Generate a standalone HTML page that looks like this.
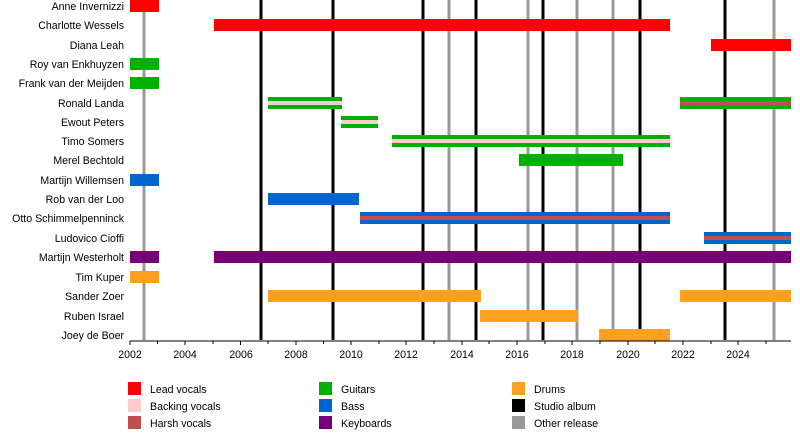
<!DOCTYPE html>
<html><head><meta charset="utf-8"><style>body{margin:0;background:#fff}</style></head><body>
<svg width="800" height="430" xmlns="http://www.w3.org/2000/svg" font-family="Liberation Sans, sans-serif" font-size="10.6">
<rect width="800" height="430" fill="#fff"/>
<g stroke="#000" stroke-width="3">
<line x1="261" y1="0" x2="261" y2="340"/><line x1="333" y1="0" x2="333" y2="340"/><line x1="423" y1="0" x2="423" y2="340"/><line x1="476" y1="0" x2="476" y2="340"/><line x1="543" y1="0" x2="543" y2="340"/><line x1="640" y1="0" x2="640" y2="340"/><line x1="725" y1="0" x2="725" y2="340"/>
</g>
<g stroke="#999" stroke-width="3">
<line x1="144" y1="0" x2="144" y2="340"/><line x1="449" y1="0" x2="449" y2="340"/><line x1="528" y1="0" x2="528" y2="340"/><line x1="577" y1="0" x2="577" y2="340"/><line x1="613" y1="0" x2="613" y2="340"/><line x1="774" y1="0" x2="774" y2="340"/>
</g>
<g>
<rect x="130" y="0" width="29" height="12" fill="#f00"/>
<rect x="214" y="19" width="456" height="12" fill="#f00"/>
<rect x="711" y="39" width="80" height="12" fill="#f00"/>
<rect x="130" y="58" width="29" height="12" fill="#00b000"/>
<rect x="130" y="77" width="29" height="12" fill="#00b000"/>
<rect x="268" y="97" width="74" height="12" fill="#00b000"/><rect x="268" y="101" width="74" height="4" fill="#fcc"/>
<rect x="680" y="97" width="111" height="12" fill="#00b000"/><rect x="680" y="101" width="111" height="4" fill="#c05050"/>
<rect x="341" y="116" width="37" height="12" fill="#00b000"/><rect x="341" y="120" width="37" height="4" fill="#fcc"/>
<rect x="392" y="135" width="278" height="12" fill="#00b000"/><rect x="392" y="139" width="278" height="4" fill="#fcc"/>
<rect x="519" y="154" width="104" height="12" fill="#00b000"/>
<rect x="130" y="174" width="29" height="12" fill="#0066cc"/>
<rect x="268" y="193" width="91" height="12" fill="#0066cc"/>
<rect x="360" y="212" width="310" height="12" fill="#0066cc"/><rect x="360" y="216" width="310" height="4" fill="#c05050"/>
<rect x="704" y="232" width="87" height="12" fill="#0066cc"/><rect x="704" y="236" width="87" height="4" fill="#c05050"/>
<rect x="130" y="251" width="29" height="12" fill="#770077"/>
<rect x="214" y="251" width="577" height="12" fill="#770077"/>
<rect x="130" y="271" width="29" height="12" fill="#ffa020"/>
<rect x="268" y="290" width="213" height="12" fill="#ffa020"/>
<rect x="680" y="290" width="111" height="12" fill="#ffa020"/>
<rect x="480" y="310" width="98" height="12" fill="#ffa020"/>
<rect x="599" y="329" width="71" height="12" fill="#ffa020"/>
</g>
<line x1="130" y1="341" x2="791" y2="341" stroke="#000"/>
<g stroke="#000">
<line x1="130" y1="341" x2="130" y2="345"/><line x1="157.5" y1="341" x2="157.5" y2="344"/><line x1="185" y1="341" x2="185" y2="345"/><line x1="213" y1="341" x2="213" y2="344"/><line x1="240.5" y1="341" x2="240.5" y2="345"/><line x1="268" y1="341" x2="268" y2="344"/><line x1="296" y1="341" x2="296" y2="345"/><line x1="323.5" y1="341" x2="323.5" y2="344"/><line x1="351" y1="341" x2="351" y2="345"/><line x1="379" y1="341" x2="379" y2="344"/><line x1="406" y1="341" x2="406" y2="345"/><line x1="434" y1="341" x2="434" y2="344"/><line x1="462" y1="341" x2="462" y2="345"/><line x1="489" y1="341" x2="489" y2="344"/><line x1="517" y1="341" x2="517" y2="345"/><line x1="545" y1="341" x2="545" y2="344"/><line x1="572" y1="341" x2="572" y2="345"/><line x1="600" y1="341" x2="600" y2="344"/><line x1="628" y1="341" x2="628" y2="345"/><line x1="655" y1="341" x2="655" y2="344"/><line x1="683" y1="341" x2="683" y2="345"/><line x1="711" y1="341" x2="711" y2="344"/><line x1="738" y1="341" x2="738" y2="345"/><line x1="766" y1="341" x2="766" y2="344"/>
</g>
<g text-anchor="middle" fill="#000">
<text x="130" y="358">2002</text><text x="185" y="358">2004</text><text x="241" y="358">2006</text><text x="296" y="358">2008</text><text x="351" y="358">2010</text><text x="406" y="358">2012</text><text x="462" y="358">2014</text><text x="517" y="358">2016</text><text x="572" y="358">2018</text><text x="628" y="358">2020</text><text x="683" y="358">2022</text><text x="738" y="358">2024</text>
</g>
<g text-anchor="end" fill="#000">
<text x="124" y="10">Anne Invernizzi</text>
<text x="124" y="29">Charlotte Wessels</text>
<text x="124" y="49">Diana Leah</text>
<text x="124" y="68">Roy van Enkhuyzen</text>
<text x="124" y="87">Frank van der Meijden</text>
<text x="124" y="107">Ronald Landa</text>
<text x="124" y="126">Ewout Peters</text>
<text x="124" y="145">Timo Somers</text>
<text x="124" y="164">Merel Bechtold</text>
<text x="124" y="184">Martijn Willemsen</text>
<text x="124" y="203">Rob van der Loo</text>
<text x="124" y="222">Otto Schimmelpenninck</text>
<text x="124" y="242">Ludovico Cioffi</text>
<text x="124" y="261">Martijn Westerholt</text>
<text x="124" y="281">Tim Kuper</text>
<text x="124" y="300">Sander Zoer</text>
<text x="124" y="320">Ruben Israel</text>
<text x="124" y="339">Joey de Boer</text>
</g>
<rect x="128" y="382" width="13" height="13" fill="#f00"/><text x="150" y="393">Lead vocals</text>
<rect x="128" y="399" width="13" height="13" fill="#fcc"/><text x="150" y="410">Backing vocals</text>
<rect x="128" y="416" width="13" height="13" fill="#c05050"/><text x="150" y="427">Harsh vocals</text>
<rect x="319" y="382" width="13" height="13" fill="#00b000"/><text x="341" y="393">Guitars</text>
<rect x="319" y="399" width="13" height="13" fill="#0066cc"/><text x="341" y="410">Bass</text>
<rect x="319" y="416" width="13" height="13" fill="#770077"/><text x="341" y="427">Keyboards</text>
<rect x="512" y="382" width="13" height="13" fill="#ffa020"/><text x="534" y="393">Drums</text>
<rect x="512" y="399" width="13" height="13" fill="#000"/><text x="534" y="410">Studio album</text>
<rect x="512" y="416" width="13" height="13" fill="#999"/><text x="534" y="427">Other release</text>
</svg>
</body></html>
